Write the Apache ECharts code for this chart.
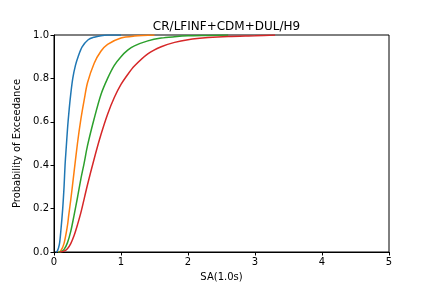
<!DOCTYPE html>
<html><head><meta charset="utf-8">
<script src="https://cdn.jsdelivr.net/npm/echarts@6/dist/echarts.min.js"></script>
<style>html,body{margin:0;padding:0;background:#fff}#c{width:432px;height:288px}</style>
</head><body><div id="c"></div>
<script>
const titleText = "CR/LFINF+CDM+DUL/H9";
const xLabel = "SA(1.0s)";
const yLabel = "Probability of Exceedance";
const xTicks = [0, 1, 2, 3, 4, 5];
const yTicks = [0.0, 0.2, 0.4, 0.6, 0.8, 1.0];

const blueX = [0.03, 0.05, 0.08, 0.10, 0.13, 0.15, 0.165, 0.18, 0.20, 0.21, 0.24, 0.28, 0.32, 0.36, 0.42, 0.51, 0.60, 0.70, 0.80, 1.00];
const blueY = [0.0, 0.004, 0.035, 0.09, 0.20, 0.30, 0.40, 0.47, 0.56, 0.60, 0.70, 0.80, 0.86, 0.90, 0.945, 0.978, 0.99, 0.997, 1.0, 1.0];

const orangeX = [0.06, 0.10, 0.15, 0.20, 0.22, 0.25, 0.30, 0.35, 0.40, 0.45, 0.50, 0.60, 0.70, 0.80, 1.00, 1.20, 1.50];
const orangeY = [0.0, 0.005, 0.04, 0.12, 0.17, 0.24, 0.37, 0.50, 0.61, 0.70, 0.78, 0.87, 0.925, 0.957, 0.986, 0.995, 1.0];

const greenX = [0.07, 0.10, 0.15, 0.20, 0.25, 0.30, 0.35, 0.40, 0.45, 0.50, 0.60, 0.70, 0.80, 0.90, 1.00, 1.10, 1.20, 1.40, 1.60, 1.80, 2.00, 2.30, 2.60];
const greenY = [0.0, 0.001, 0.012, 0.042, 0.095, 0.17, 0.25, 0.335, 0.41, 0.49, 0.615, 0.725, 0.80, 0.86, 0.90, 0.93, 0.95, 0.973, 0.986, 0.992, 0.996, 0.998, 1.0];

const redX = [0.09, 0.15, 0.20, 0.25, 0.30, 0.35, 0.40, 0.50, 0.60, 0.70, 0.80, 0.90, 1.00, 1.10, 1.20, 1.40, 1.60, 1.80, 2.00, 2.30, 2.60, 3.00, 3.30];
const redY = [0.0, 0.004, 0.015, 0.039, 0.076, 0.125, 0.18, 0.31, 0.43, 0.54, 0.635, 0.712, 0.772, 0.818, 0.857, 0.913, 0.946, 0.966, 0.978, 0.988, 0.9936, 0.997, 1.0];

const colors = ["#1f77b4", "#ff7f0e", "#2ca02c", "#d62728"];
const seriesData = [[blueX, blueY], [orangeX, orangeY], [greenX, greenY], [redX, redY]];

const font = "DejaVu Sans";
const chart = echarts.init(document.getElementById('c'), null, {renderer: 'canvas'});
chart.setOption({
  animation: false,
  backgroundColor: '#fff',
  title: {text: titleText, left: 221.5, top: 16, textAlign: 'center',
    textStyle: {fontFamily: font, fontSize: 12, fontWeight: 'normal', color: '#000'}},
  grid: {left: 54, right: 43, top: 35, bottom: 36, show: true, borderColor: '#000', borderWidth: 1, backgroundColor: 'transparent'},
  xAxis: {type: 'value', min: xTicks[0], max: xTicks[xTicks.length-1], interval: 1,
    name: xLabel, nameLocation: 'middle', nameGap: 20,
    nameTextStyle: {fontFamily: font, fontSize: 10, color: '#000'},
    axisLine: {show: true, lineStyle: {color: '#000', width: 1}},
    axisTick: {show: true, length: 3.5, lineStyle: {color: '#000'}},
    axisLabel: {fontFamily: font, fontSize: 10, color: '#000', margin: 5},
    splitLine: {show: false}},
  yAxis: {type: 'value', min: yTicks[0], max: yTicks[yTicks.length-1], interval: 0.2,
    name: yLabel, nameLocation: 'middle', nameGap: 27,
    nameTextStyle: {fontFamily: font, fontSize: 10, color: '#000'},
    axisLine: {show: true, lineStyle: {color: '#000', width: 1}},
    axisTick: {show: true, length: 3.5, lineStyle: {color: '#000'}},
    axisLabel: {fontFamily: font, fontSize: 10, color: '#000', margin: 5, formatter: v => v.toFixed(1)},
    splitLine: {show: false}},
  series: seriesData.map((d, i) => ({
    type: 'line', showSymbol: false, symbol: 'none', smooth: 0.3,
    data: d[0].map((x, j) => [x, d[1][j]]),
    lineStyle: {color: colors[i], width: 1.5}, itemStyle: {color: colors[i]}, z: 2
  }))
});
</script></body></html>
